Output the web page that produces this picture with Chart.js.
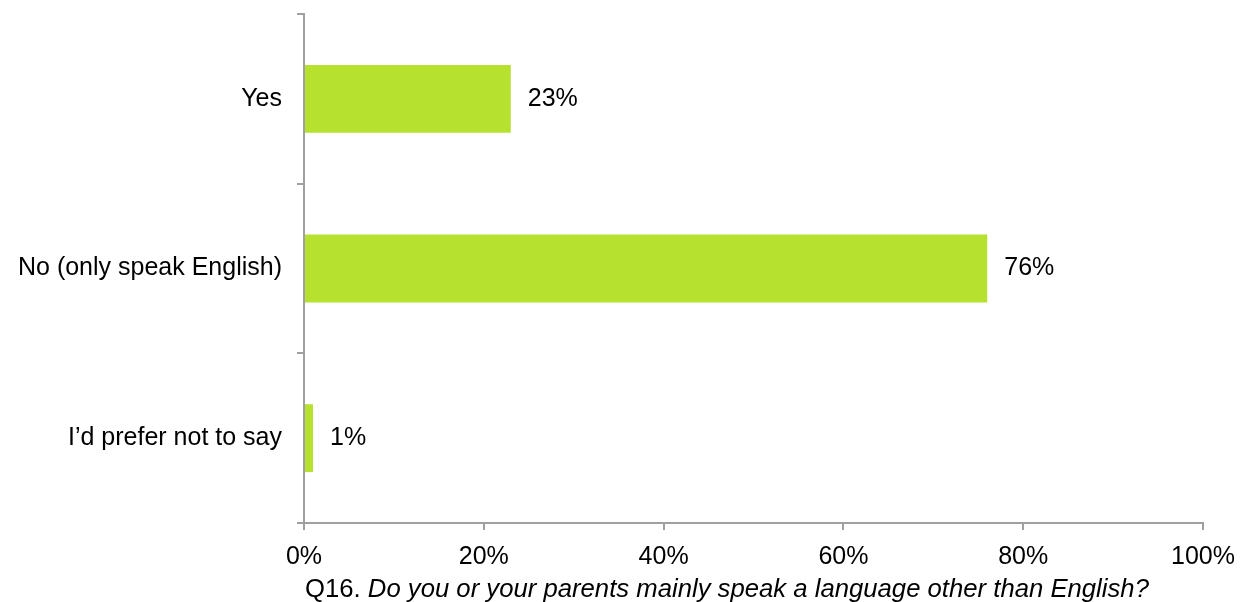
<!DOCTYPE html>
<html lang="en">
<head>
  <meta charset="UTF-8">
  <title>Q16 - Language spoken</title>
  <script src="https://cdn.jsdelivr.net/npm/chart.js"></script>
  <style>
    html, body {
      margin: 0;
      padding: 0;
      background: #ffffff;
    }
    .chart-container {
      width: 1254px;
      height: 602px;
      position: relative;
    }
  </style>
</head>
<body>
  <div class="chart-container">
    <canvas id="langChart"></canvas>
  </div>

  <script>
    const categories = ['Yes', 'No (only speak English)', 'I\u2019d prefer not to say'];
    const shares = [23, 76, 1];
    const xTicks = [0, 20, 40, 60, 80, 100];
    const questionNo = 'Q16. ';
    const questionText = 'Do you or your parents mainly speak a language other than English?';

    const FONT = "'Liberation Sans', Arial, sans-serif";
    const AXIS_GREY = '#a0a0a0';
    const BAR_GREEN = '#b6e22f';

    // value labels to the right of each bar
    const barLabels = {
      id: 'barLabels',
      afterDatasetsDraw(chart) {
        const ctx = chart.ctx;
        const meta = chart.getDatasetMeta(0);
        ctx.save();
        ctx.font = '25px ' + FONT;
        ctx.fillStyle = '#000000';
        ctx.textAlign = 'left';
        ctx.textBaseline = 'middle';
        meta.data.forEach((bar, i) => {
          ctx.fillText(shares[i] + '%', bar.x + 17, bar.y);
        });
        ctx.restore();
      }
    };

    // axis caption: question number upright, question in italics
    const caption = {
      id: 'caption',
      afterDraw(chart) {
        const ctx = chart.ctx;
        const area = chart.chartArea;
        ctx.save();
        ctx.fillStyle = '#000000';
        ctx.textBaseline = 'alphabetic';
        ctx.textAlign = 'left';
        const x = area.left + 1;
        const y = 597;
        ctx.font = '25.7px ' + FONT;
        const w1 = ctx.measureText(questionNo).width;
        ctx.fillText(questionNo, x, y);
        ctx.font = 'italic 25.7px ' + FONT;
        ctx.fillText(questionText, x + w1, y);
        ctx.restore();
      }
    };

    const ctx = document.getElementById('langChart').getContext('2d');
    new Chart(ctx, {
      type: 'bar',
      data: {
        labels: categories,
        datasets: [{
          data: shares,
          backgroundColor: BAR_GREEN,
          borderWidth: 0,
          categoryPercentage: 1,
          barPercentage: 0.4
        }]
      },
      options: {
        indexAxis: 'y',
        responsive: true,
        maintainAspectRatio: false,
        animation: false,
        layout: {
          padding: { top: 14, right: 51, bottom: 0, left: 0 }
        },
        plugins: {
          legend: { display: false },
          tooltip: { enabled: false }
        },
        scales: {
          x: {
            min: 0,
            max: 100,
            afterBuildTicks: (scale) => {
              scale.ticks = xTicks.map(v => ({ value: v }));
            },
            afterFit: (scale) => { scale.height = 79; },
            grid: {
              drawOnChartArea: false,
              drawTicks: true,
              tickLength: 7,
              lineWidth: 2,
              tickColor: AXIS_GREY
            },
            border: { display: true, color: AXIS_GREY, width: 2 },
            ticks: {
              color: '#000000',
              padding: 12,
              maxRotation: 0,
              font: { family: FONT, size: 25 },
              callback: (v) => v + '%'
            }
          },
          y: {
            afterFit: (scale) => {
              scale.width = 304;
              scale.paddingTop = 0;
              scale.paddingBottom = 0;
            },
            grid: {
              offset: true,
              drawOnChartArea: false,
              drawTicks: true,
              tickLength: 7,
              lineWidth: 2,
              tickColor: AXIS_GREY
            },
            border: { display: true, color: AXIS_GREY, width: 2 },
            ticks: {
              color: '#000000',
              padding: 15,
              font: { family: FONT, size: 25 }
            }
          }
        }
      },
      plugins: [barLabels, caption]
    });
  </script>
</body>
</html>
